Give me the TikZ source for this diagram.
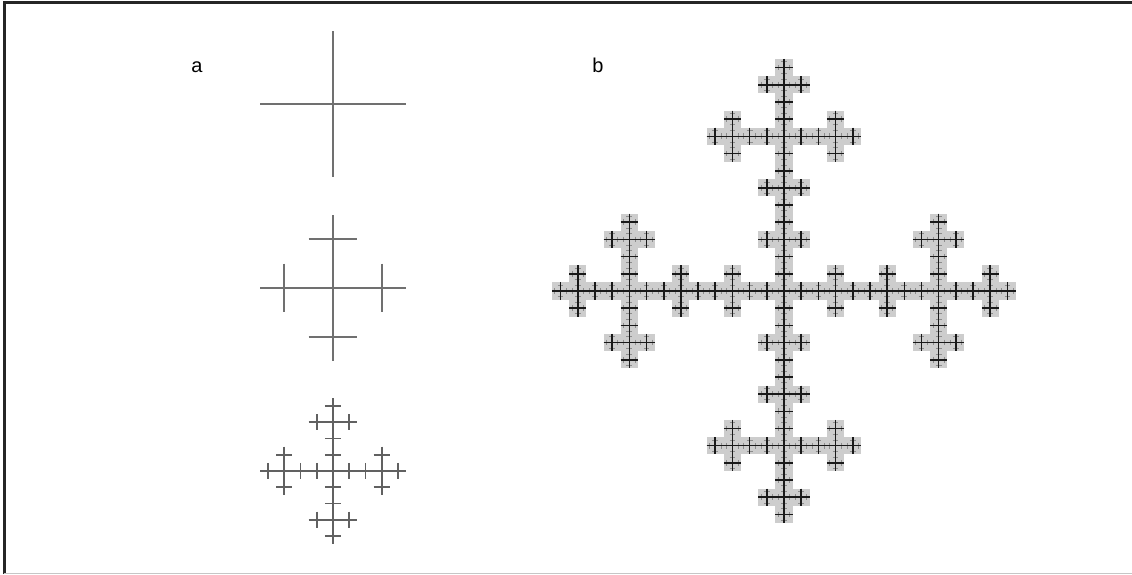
\documentclass[tikz,border=0pt]{standalone}
\usepackage{fontspec}
\setmainfont{Liberation Sans}
\usetikzlibrary{positioning}
\definecolor{lineg}{HTML}{707070}
\definecolor{boxg}{HTML}{CDCDCD}

% five copies: centre and the four arms
\def\dirs{0/0,1/0,-1/0,0/1,0/-1}
% cross centred at (#2,#3), half length #4
\newcommand{\vcross}[4][]{\draw[#1] (#2-#4,#3) -- (#2+#4,#3) (#2,#3-#4) -- (#2,#3+#4);}

\begin{document}
\begin{tikzpicture}[x=1pt,y=-1pt,
  arm/.style={draw=lineg, line width=2pt},
  fine/.style={draw=black!62, line width=1.8pt},
  cell/.style={fill=boxg},
  tiny/.style={draw=black!45, line width=0.9pt},
  bar/.style={draw=black!90, line width=1.6pt},
  lbl/.style={font=\fontsize{20}{24}\selectfont, inner sep=0pt, anchor=base}
]
\useasboundingbox (0,0) rectangle (1132,574);
% frame
\draw[black!85, line width=3pt] (4.5,574) -- (4.5,2.5) -- (1132,2.5);
\draw[gray!45, line width=1pt] (4,573.5) -- (1132,573.5);

\node[lbl] (la) at (197,72) {a};
\node[lbl] (lb) at (598,72) {b};

% panel a, step 1
\vcross[arm]{333}{104}{73}
% panel a, step 2
\vcross[arm]{333}{288}{73}
\foreach \ax/\ay in \dirs {
  \pgfmathsetmacro\px{333+48.67*\ax}
  \pgfmathsetmacro\py{288+48.67*\ay}
  \vcross[arm]{\px}{\py}{24.33}
}
% panel a, step 3
\foreach \ax/\ay in \dirs {
  \foreach \bx/\by in \dirs {
    \pgfmathsetmacro\px{333+48.67*\ax+16.22*\bx}
    \pgfmathsetmacro\py{471+48.67*\ay+16.22*\by}
    \vcross[fine]{\px}{\py}{8.11}
  }
}

% panel b: grey cells
\foreach \ax/\ay in \dirs {
  \foreach \bx/\by in \dirs {
    \foreach \cx/\cy in \dirs {
      \pgfmathsetmacro\px{784+154.67*\ax+51.56*\bx+17.19*\cx}
      \pgfmathsetmacro\py{291+154.67*\ay+51.56*\by+17.19*\cy}
      \fill[cell] (\px-8.6,\py-8.6) rectangle (\px+8.6,\py+8.6);
    }
  }
}
% panel b: finest crosses
\foreach \ax/\ay in \dirs {
  \foreach \bx/\by in \dirs {
    \foreach \cx/\cy in \dirs {
      \foreach \dx/\dy in \dirs {
        \pgfmathsetmacro\px{784+154.67*\ax+51.56*\bx+17.19*\cx+5.73*\dx}
        \pgfmathsetmacro\py{291+154.67*\ay+51.56*\by+17.19*\cy+5.73*\dy}
        \vcross[tiny]{\px}{\py}{2.86}
      }
    }
  }
}
% panel b: step 4 crosses
\foreach \ax/\ay in \dirs {
  \foreach \bx/\by in \dirs {
    \foreach \cx/\cy in \dirs {
      \pgfmathsetmacro\px{784+154.67*\ax+51.56*\bx+17.19*\cx}
      \pgfmathsetmacro\py{291+154.67*\ay+51.56*\by+17.19*\cy}
      \vcross[bar]{\px}{\py}{8.6}
    }
  }
}
\end{tikzpicture}
\end{document}
